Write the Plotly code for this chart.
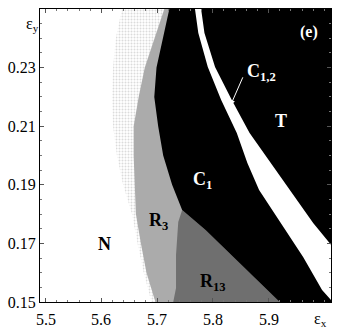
import plotly.graph_objects as go

# y levels (top to bottom)
y_levels = [0.25, 0.24, 0.23, 0.22, 0.21, 0.20, 0.19, 0.18, 0.17, 0.16, 0.15]
# left edge of the sparse (dotted) R3 fringe
dotted_edge_x = [5.637, 5.626, 5.621, 5.619, 5.621, 5.628, 5.639, 5.655, 5.665, 5.676, 5.690]
# left edge of solid R3 region
r3_edge_x = [5.713, 5.695, 5.678, 5.667, 5.658, 5.658, 5.660, 5.662, 5.671, 5.681, 5.697]
# left edge of the black C1 region (0.25 .. 0.19) then junction with R13
c1_edge_y = [0.25, 0.24, 0.23, 0.22, 0.21, 0.20, 0.19, 0.1814]
c1_edge_x = [5.722, 5.710, 5.699, 5.695, 5.702, 5.711, 5.727, 5.745]
# boundary R13 / C1 (from junction down to bottom)
r13_top_y = [0.1814, 0.1746, 0.15]
r13_top_x = [5.745, 5.787, 5.920]
# boundary R3 / R13 (from junction down to bottom)
r13_left_y = [0.1814, 0.1773, 0.166, 0.1548, 0.15]
r13_left_x = [5.745, 5.738, 5.734, 5.734, 5.729]
# white band C1,2
band_left_y = [0.25, 0.2418, 0.2302, 0.2189, 0.2077, 0.1974, 0.1882, 0.1770, 0.1654, 0.1541, 0.1507, 0.1490]
band_left_x = [5.768, 5.774, 5.791, 5.815, 5.843, 5.862, 5.883, 5.922, 5.962, 5.996, 6.012, 6.020]
band_right_y = [0.25, 0.2418, 0.2302, 0.2189, 0.2077, 0.1974, 0.1882, 0.1770, 0.1695, 0.1680]
band_right_x = [5.779, 5.785, 5.804, 5.834, 5.866, 5.903, 5.938, 5.980, 6.012, 6.020]

X_RIGHT = 6.03
X_RANGE = [5.490, 6.012]
Y_RANGE = [0.15, 0.25]

x_ticks = [5.5, 5.6, 5.7, 5.8, 5.9]
y_ticks = [0.15, 0.17, 0.19, 0.21, 0.23]

LIGHT = "#ababab"
DARK = "#6f6f6f"
BLACK = "#000000"
FONT = "Liberation Serif"

fig = go.Figure()

def poly(xs, ys, color, pattern=None):
    kw = dict(x=xs + [xs[0]], y=ys + [ys[0]], mode="lines", line=dict(width=0),
              fill="toself", fillcolor=color, hoverinfo="skip", showlegend=False)
    if pattern:
        kw["fillpattern"] = pattern
    fig.add_trace(go.Scatter(**kw))

# dotted fringe
poly(dotted_edge_x + [X_RIGHT, X_RIGHT], y_levels + [0.15, 0.25], "white",
     dict(shape=".", fgcolor="#b8b8b8", bgcolor="white", size=3, solidity=0.35))
# R3 solid
poly(r3_edge_x + [X_RIGHT, X_RIGHT], y_levels + [0.15, 0.25], LIGHT)
# R13
poly(r13_left_x + r13_top_x[::-1][:-1], r13_left_y + r13_top_y[::-1][:-1], DARK)
# C1 + T black
poly(c1_edge_x + r13_top_x[1:] + [X_RIGHT, X_RIGHT],
     c1_edge_y + r13_top_y[1:] + [0.15, 0.25], BLACK)
# white band
poly(band_left_x + band_right_x[::-1], band_left_y + band_right_y[::-1], "white")

def label(x, y, text, color, size=18, bold=True):
    fig.add_annotation(x=x, y=y, text=("<b>%s</b>" % text) if bold else text,
                       showarrow=False, font=dict(family=FONT, size=size, color=color))

label(5.605, 0.1698, "N", "black")
label(5.703, 0.1775, "R<sub>3</sub>", "black")
label(5.782, 0.1915, "C<sub>1</sub>", "white")
label(5.800, 0.1565, "R<sub>13</sub>", "black")
label(5.922, 0.2118, "T", "white")
label(5.973, 0.2422, "(e)", "white", size=16)
label(5.888, 0.2285, "C<sub>1,2</sub>", "white")

fig.add_annotation(x=5.832, y=0.2172, ax=5.855, ay=0.2272, axref="x", ayref="y",
                   xref="x", yref="y", text="", showarrow=True, arrowhead=2,
                   arrowsize=1, arrowwidth=1, arrowcolor="white")

# x tick labels (placed a little further below the axis, as in the original)
for v in x_ticks:
    fig.add_annotation(x=v, y=0, xref="x", yref="paper", yanchor="middle", yshift=-17,
                       text=f"{v:.1f}", showarrow=False,
                       font=dict(family=FONT, size=16, color="black"))

fig.add_annotation(x=-0.055, y=0.985, xref="paper", yref="paper", text="ε<sub>y</sub>",
                   showarrow=False, font=dict(family=FONT, size=16, color="black"))
fig.add_annotation(x=0.992, y=0, yshift=-17, yanchor="middle", xref="paper", yref="paper",
                   text="ε<sub>x</sub>", showarrow=False,
                   font=dict(family=FONT, size=16, color="black"))

axis_common = dict(showgrid=False, zeroline=False, showline=True, linecolor="black",
                   linewidth=1, mirror="ticks", ticks="inside", ticklen=4,
                   tickcolor="#555", tickfont=dict(family=FONT, size=16, color="black"))

fig.update_xaxes(range=X_RANGE, tickvals=x_ticks, showticklabels=False,
                 minor=dict(ticks="inside", ticklen=2, dtick=0.02, tickcolor="#777"),
                 **axis_common)
fig.update_yaxes(range=Y_RANGE, tickvals=y_ticks, ticktext=[f"{v:.2f}" for v in y_ticks],
                 minor=dict(ticks="inside", ticklen=2, dtick=0.005, tickcolor="#777"),
                 **axis_common)

fig.update_layout(width=340, height=328, margin=dict(l=37, r=8, t=8, b=26),
                  plot_bgcolor="white", paper_bgcolor="white")

fig.write_html("out.html")
